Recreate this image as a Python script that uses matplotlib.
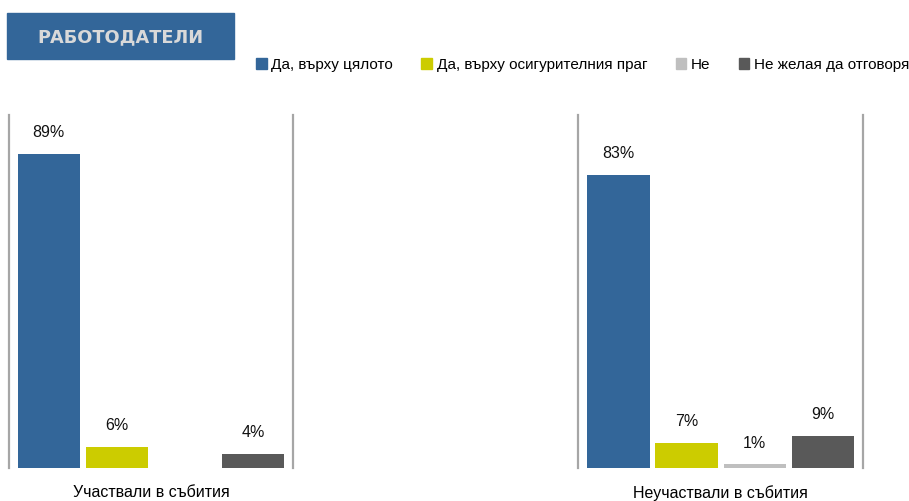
import matplotlib.pyplot as plt
import numpy as np
from matplotlib.patches import Patch, Rectangle

plt.rcParams['font.family'] = ['Liberation Sans', 'DejaVu Sans']

# data
groups = ['Участвали в събития', '', 'Неучаствали в събития']
series = ['Да, върху цялото', 'Да, върху осигурителния праг', 'Не', 'Не желая да отговоря']
values = {
    'Да, върху цялото': [89, np.nan, 83],
    'Да, върху осигурителния праг': [6, np.nan, 7],
    'Не': [np.nan, np.nan, 1],
    'Не желая да отговоря': [4, np.nan, 9],
}
colors = ['#336699', '#cccc00', '#bfbfbf', '#595959']
title = 'РАБОТОДАТЕЛИ'

fig = plt.figure(figsize=(9.09, 5.01), dpi=100)
ax = fig.add_axes([8.5 / 909, 33 / 501, (863 - 8.5) / 909, (468 - 115) / 501])

x = np.arange(len(groups)) + 0.5
step = 0.239
width = 0.218
for i, (name, col) in enumerate(zip(series, colors)):
    vals = np.array(values[name], dtype=float)
    bars = ax.bar(x + (i - 1.5) * step, np.nan_to_num(vals), width, color=col)
    labels = ['' if np.isnan(v) else '%d%%' % v for v in vals]
    ax.bar_label(bars, labels=labels, padding=10, fontsize=11.5, color='#111111')

for sep in range(len(groups) + 1):
    ax.axvline(sep, color='#a6a6a6', lw=1.6, clip_on=False)

ax.set_xlim(0, 3)
ax.set_ylim(0, 100)
ax.set_xticks(x)
ax.set_xticklabels(groups, fontsize=11.5)
ax.tick_params(axis='x', length=0, pad=12.5)
ax.set_yticks([])
for s in ax.spines.values():
    s.set_visible(False)

# title box
fig.patches.append(Rectangle((7 / 909, 1 - 59 / 501), 227 / 909, 46 / 501,
                             transform=fig.transFigure, color='#336699'))
fig.text(120 / 909, 1 - 37 / 501, title, color='#d9d9d9', fontsize=12.8,
         fontweight='bold', family='DejaVu Sans', ha='center', va='center')

handles = [Patch(color=c) for c in colors]
fig.legend(handles, series, loc='center left', bbox_to_anchor=(250 / 909, 1 - 65 / 501),
           ncol=4, frameon=False, fontsize=11, handlelength=0.7, handleheight=0.7,
           handletextpad=0.3, columnspacing=1.85, borderaxespad=0)

fig.savefig('out.png', dpi=100)
